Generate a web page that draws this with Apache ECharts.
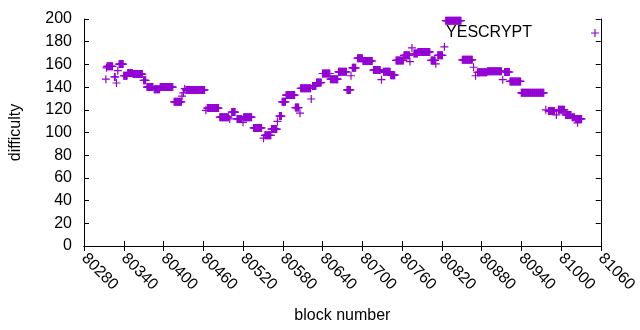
<!DOCTYPE html>
<html>
<head>
<meta charset="utf-8">
<script src="https://cdn.jsdelivr.net/npm/echarts@6/dist/echarts.min.js"></script>
<style>html,body{margin:0;padding:0;background:#fff}#c{width:640px;height:330px}</style>
</head>
<body>
<div id="c"></div>
<script>
// Runs of consecutive blocks sharing the same difficulty
const runStart = [80315,80326,80333,80340,80346,80354,80370,80375,80386,80395,80416,80434,80466,80485,80503,80511,80521,80536,80553,80563,80575,80579,80585,80599,80607,80625,80631,80640,80652,80664,80677,80685,80693,80701,80717,80732,80743,80751,80763,80778,80784,80804,80814,80826,80851,80874,80889,80915,80923,80940,80981,80996,81007,81017,81022];
const runEnd   = [80323,80327,80339,80345,80353,80368,80373,80384,80394,80414,80427,80462,80483,80498,80508,80518,80533,80548,80562,80571,80578,80584,80598,80604,80622,80630,80638,80651,80663,80676,80682,80690,80700,80715,80727,80742,80749,80762,80771,80783,80802,80810,80821,80849,80866,80888,80910,80922,80939,80974,80990,81005,81015,81020,81031];
const runDiff  = [158.3,149,160.3,150,152.5,151.5,146,140,138,140,127,137.5,121.5,113.5,118,112,113.5,104,97.5,103,114.5,127,133,122,139,141,144,152,147,153.5,137.5,157,165.5,163,155,153.5,150.5,163.5,168,169.5,171,163.5,168,198.5,164,153,154,153.3,145,135,119,120,115.5,113.5,112];
// Isolated points
const singleBlock = [80313,80314,80329,80331,80428,80430,80432,80464,80500,80520,80551,80572,80606,80623,80683,80729,80772,80775,80811,80824,80868,80871,80912,80977,80993,81025];
const singleDiff  = [147,157,143.6,154.5,132,135,138.6,119.5,112,109,95,109.8,117,129.5,150,146.5,162.5,174.5,160.5,175.5,157.5,150,146.5,120,115.5,108.5];

const xTicksMin = 80280, xTicksMax = 81060, xTickStep = 60;
const yTicksMin = 0, yTicksMax = 200, yTickStep = 20;

const points = [];
for (let i = 0; i < runStart.length; i++) {
  for (let b = runStart[i]; b <= runEnd[i]; b++) points.push([b, runDiff[i]]);
}
for (let i = 0; i < singleBlock.length; i++) points.push([singleBlock[i], singleDiff[i]]);

const COLOR = '#9400d3';
const FONT = 'Liberation Sans';
const cross = 'path://M0,3.4H8V4.6H0Z M3.4,0H4.6V8H3.4Z';

const chart = echarts.init(document.getElementById('c'), null, {renderer: 'canvas'});
const axisLine = {show: true, lineStyle: {color: '#000', width: 1}};
const tick = {show: true, inside: true, length: 5, lineStyle: {color: '#000', width: 1}};
chart.setOption({
  backgroundColor: '#fff',
  animation: false,
  textStyle: {fontFamily: FONT},
  grid: {left: 84, right: 31, top: 19, bottom: 84, containLabel: false},
  legend: {
    data: ['YESCRYPT'],
    right: 36, top: 20,
    align: 'right',
    itemWidth: 8, itemHeight: 8,
    icon: cross,
    itemStyle: {color: COLOR, opacity: 1},
    textStyle: {fontFamily: FONT, fontSize: 16, color: '#000', padding: [0, 54, 0, 0]}
  },
  xAxis: [{
    type: 'value', min: xTicksMin, max: xTicksMax, interval: xTickStep,
    name: 'block number', nameLocation: 'middle', nameGap: 62,
    nameTextStyle: {fontFamily: FONT, fontSize: 16, color: '#000'},
    axisLine: axisLine, axisTick: tick, splitLine: {show: false},
    axisLabel: {rotate: -45, fontFamily: FONT, fontSize: 16, color: '#000', margin: 10,
      formatter: function (v) { return String(v); }}
  }, {
    type: 'value', position: 'top', min: xTicksMin, max: xTicksMax, interval: xTickStep,
    axisLine: axisLine, axisTick: tick, axisLabel: {show: false}, splitLine: {show: false}
  }],
  yAxis: [{
    type: 'value', min: yTicksMin, max: yTicksMax, interval: yTickStep,
    name: 'difficulty', nameLocation: 'middle', nameGap: 60,
    nameTextStyle: {fontFamily: FONT, fontSize: 16, color: '#000'},
    axisLine: axisLine, axisTick: tick, splitLine: {show: false},
    axisLabel: {fontFamily: FONT, fontSize: 16, color: '#000', margin: 12}
  }, {
    type: 'value', position: 'right', min: yTicksMin, max: yTicksMax, interval: yTickStep,
    axisLine: axisLine, axisTick: tick, axisLabel: {show: false}, splitLine: {show: false}
  }],
  series: [{
    name: 'YESCRYPT',
    type: 'scatter',
    data: points,
    symbol: cross,
    symbolSize: 8,
    itemStyle: {color: COLOR, opacity: 1},
    emphasis: {disabled: true},
    clip: false,
    large: false
  }]
});
</script>
</body>
</html>
